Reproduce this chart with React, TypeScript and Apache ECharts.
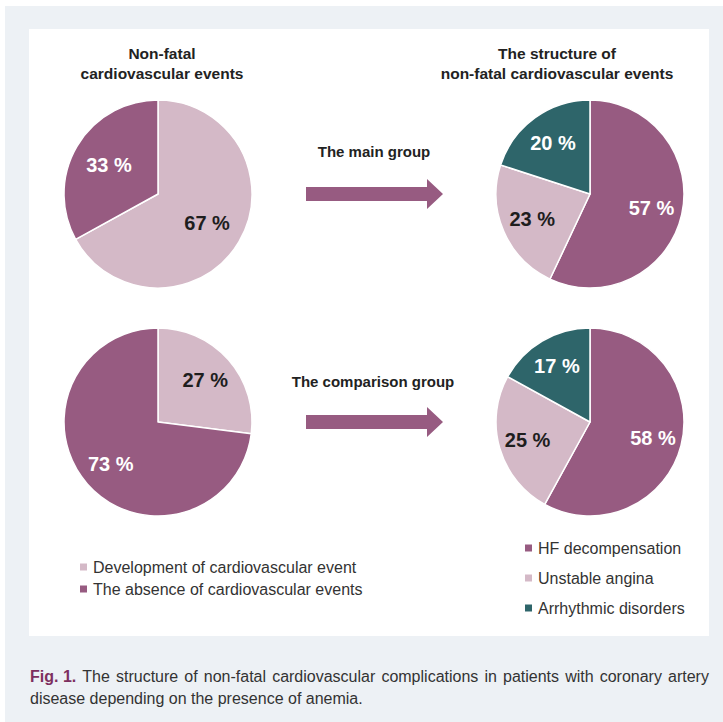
import React, { useEffect, useRef } from 'react';
import * as echarts from 'echarts';

const leftCategories = ['Development of cardiovascular event', 'The absence of cardiovascular events'];
const mainLeftValues = [67, 33];
const comparisonLeftValues = [27, 73];
const rightCategories = ['HF decompensation', 'Unstable angina', 'Arrhythmic disorders'];
const mainRightValues = [57, 23, 20];
const comparisonRightValues = [58, 25, 17];
const groupLabels = ['The main group', 'The comparison group'];
const leftTitle = 'Non-fatal\ncardiovascular events';
const rightTitle = 'The structure of\nnon-fatal cardiovascular events';
const captionLead = 'Fig. 1.';
const captionLine1 = 'The structure of non-fatal cardiovascular complications in patients with coronary artery';
const captionLine2 = 'disease depending on the presence of anemia.';

const DARK = '#975b81';
const LIGHT = '#d4b9c7';
const TEAL = '#2e656a';
const FONT = '"Liberation Sans", Arial, Helvetica, sans-serif';

const leftColors = [LIGHT, DARK];
const leftLabelColors = ['#1e1e1e', '#ffffff'];
const rightColors = [DARK, LIGHT, TEAL];
const rightLabelColors = ['#ffffff', '#1e1e1e', '#ffffff'];

function pieSeries(center: number[], cats: string[], vals: number[], colors: string[], labelColors: string[], labelR: number) {
  const R = 94;
  return [
    {
      type: 'pie',
      center,
      radius: R,
      silent: true,
      startAngle: 90,
      clockwise: true,
      label: { show: false },
      labelLine: { show: false },
      emphasis: { disabled: true },
      itemStyle: { borderColor: '#ffffff', borderWidth: 1.5 },
      data: cats.map((n, i) => ({ name: n, value: vals[i], itemStyle: { color: colors[i] } })),
    },
    {
      type: 'pie',
      center,
      radius: [2 * labelR - R, R],
      silent: true,
      startAngle: 90,
      clockwise: true,
      emphasis: { disabled: true },
      labelLine: { show: false },
      itemStyle: { color: 'rgba(0,0,0,0)', borderWidth: 0 },
      label: {
        show: true,
        position: 'inside',
        formatter: '{c} %',
        fontSize: 20,
        fontWeight: 'bold',
        fontFamily: FONT,
      },
      data: vals.map((v, i) => ({ value: v, label: { color: labelColors[i] } })),
    },
  ];
}

function arrow(cy: number) {
  return {
    type: 'polygon',
    shape: {
      points: [
        [306, cy - 7], [427, cy - 7], [427, cy - 15], [443, cy], [427, cy + 15], [427, cy + 7], [306, cy + 7],
      ],
    },
    style: { fill: DARK },
    silent: true,
  };
}

// justified first caption line: spaces rendered as fixed-width rich tokens
const justifiedLine1 = captionLine1.split(' ').join('{s| }');

export default function App() {
  const ref = useRef<HTMLDivElement>(null);
  useEffect(() => {
    document.body.style.margin = '0';
    if (!ref.current) return;
    const chart = echarts.init(ref.current, undefined, { renderer: 'svg' });
    const option: any = {
      animation: false,
      backgroundColor: '#ffffff',
      legend: [
        {
          data: leftCategories,
          orient: 'vertical',
          left: 73,
          top: 551,
          icon: 'rect',
          itemWidth: 9,
          itemHeight: 9,
          itemGap: 0,
          selectedMode: false,
          textStyle: { fontSize: 16, color: '#333333', lineHeight: 22, fontFamily: FONT },
        },
        {
          data: rightCategories,
          orient: 'vertical',
          left: 518,
          top: 533,
          icon: 'rect',
          itemWidth: 9,
          itemHeight: 9,
          itemGap: 10,
          selectedMode: false,
          textStyle: { fontSize: 16, color: '#333333', lineHeight: 20, fontFamily: FONT },
        },
      ],
      graphic: [
        { type: 'rect', z: -10, silent: true, shape: { x: 5, y: 6, width: 718, height: 716 }, style: { fill: '#edf1f5' } },
        { type: 'rect', z: -9, silent: true, shape: { x: 29, y: 29, width: 680, height: 607 }, style: { fill: '#ffffff' } },
        {
          type: 'text', x: 162, y: 63, silent: true,
          style: { text: leftTitle, align: 'center', verticalAlign: 'middle', lineHeight: 20, font: `bold 15.5px ${FONT}`, fill: '#222222' },
        },
        {
          type: 'text', x: 557, y: 63, silent: true,
          style: { text: rightTitle, align: 'center', verticalAlign: 'middle', lineHeight: 20, font: `bold 15.5px ${FONT}`, fill: '#222222' },
        },
        {
          type: 'text', x: 374, y: 151, silent: true,
          style: { text: groupLabels[0], align: 'center', verticalAlign: 'middle', font: `bold 15px ${FONT}`, fill: '#222222' },
        },
        {
          type: 'text', x: 373, y: 381, silent: true,
          style: { text: groupLabels[1], align: 'center', verticalAlign: 'middle', font: `bold 15px ${FONT}`, fill: '#222222' },
        },
        arrow(194),
        arrow(422),
        {
          type: 'text', x: 30, y: 665, silent: true,
          style: {
            text: `{a|${captionLead}}{s| }${justifiedLine1}\n${captionLine2}`,
            align: 'left', verticalAlign: 'top', lineHeight: 22,
            fontSize: 16, fontFamily: FONT, fill: '#333333',
            rich: {
              a: { fill: '#7d2f5f', fontSize: 16, fontWeight: 'bold', fontFamily: FONT, lineHeight: 22 },
              s: { width: 6.1, fontSize: 16, fontFamily: FONT, lineHeight: 22 },
            },
          },
        },
      ],
      series: [
        ...pieSeries([158, 194], leftCategories, mainLeftValues, leftColors, leftLabelColors, 54),
        ...pieSeries([590, 194], rightCategories, mainRightValues, rightColors, rightLabelColors, 60),
        ...pieSeries([158, 422], leftCategories, comparisonLeftValues, leftColors, leftLabelColors, 60),
        ...pieSeries([590, 422], rightCategories, comparisonRightValues, rightColors, rightLabelColors, 62),
      ],
    };
    chart.setOption(option);
    return () => chart.dispose();
  }, []);
  return <div ref={ref} style={{ width: 723, height: 722 }} />;
}
